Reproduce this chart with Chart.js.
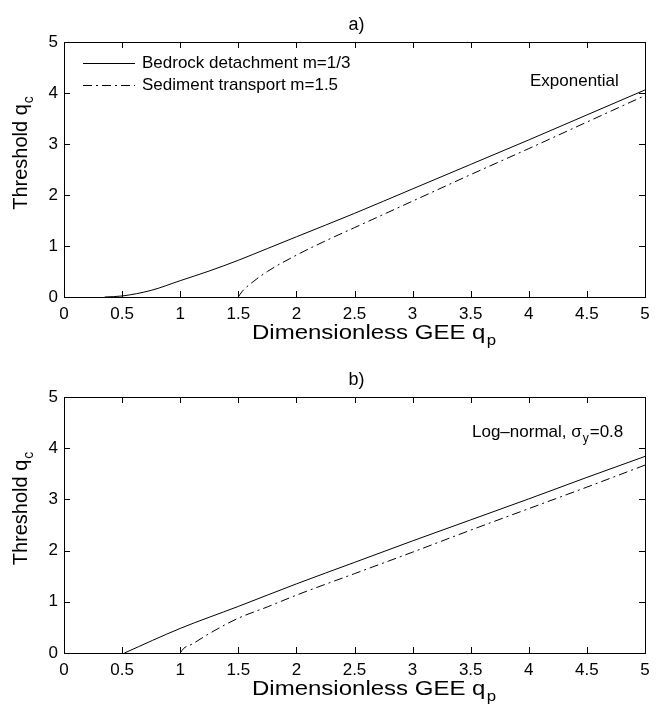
<!DOCTYPE html>
<html>
<head>
<meta charset="utf-8">
<script src="https://cdn.jsdelivr.net/npm/chart.js@4/dist/chart.umd.min.js"></script>
<style>
  body { margin: 0; background: #fff; }
  .panel { position: absolute; left: 0; width: 660px; height: 354px; }
</style>
</head>
<body>
<div class="panel" style="top:0"><canvas id="chartA" width="660" height="354"></canvas></div>
<div class="panel" style="top:354px"><canvas id="chartB" width="660" height="354"></canvas></div>
<script>
// panel a) exponential
const bedrockExpX = [0.35, 0.5, 0.75, 1, 1.25, 1.5, 1.75, 2, 2.5, 3, 3.5, 4, 4.5, 5];
const bedrockExpY = [0, 0.02, 0.13, 0.32, 0.51, 0.72, 0.95, 1.18, 1.64, 2.12, 2.6, 3.08, 3.57, 4.06];
const sedimentExpX = [1.5, 1.53, 1.6, 1.75, 2, 2.25, 2.5, 3, 3.5, 4, 4.5, 5];
const sedimentExpY = [0, 0.1, 0.25, 0.5, 0.82, 1.1, 1.36, 1.88, 2.4, 2.91, 3.43, 3.95];

// panel b) log-normal
const bedrockLogX = [0.52, 1, 1.5, 2, 2.5, 3, 3.5, 4, 4.5, 5];
const bedrockLogY = [0, 0.48, 0.91, 1.35, 1.77, 2.19, 2.6, 3.01, 3.43, 3.84];
const sedimentLogX = [1, 1.03, 1.1, 1.25, 1.5, 1.75, 2, 2.5, 3, 3.5, 4, 4.5, 5];
const sedimentLogY = [0, 0.09, 0.17, 0.38, 0.68, 0.9, 1.13, 1.55, 1.97, 2.4, 2.82, 3.24, 3.67];

const xTicks = [0, 0.5, 1, 1.5, 2, 2.5, 3, 3.5, 4, 4.5, 5];
const yTicks = [0, 1, 2, 3, 4, 5];
const seriesNames = ['Bedrock detachment m=1/3', 'Sediment transport m=1.5'];

const FONT = 'Liberation Sans, Arial, Helvetica, sans-serif';
const DASHDOT = [9, 4, 2, 4];

function toPoints(xs, ys) {
    return xs.map((x, i) => ({ x: x, y: ys[i] }));
}

// text with one subscript part
function drawSub(ctx, main, sub, x, y, size, align) {
    const subSize = Math.round(size * 0.72);
    ctx.font = size + 'px ' + FONT;
    const w1 = ctx.measureText(main).width;
    ctx.font = subSize + 'px ' + FONT;
    const w2 = ctx.measureText(sub).width;
    let start = x;
    if (align === 'center') start = x - (w1 + w2) / 2;
    ctx.textAlign = 'left';
    ctx.textBaseline = 'alphabetic';
    ctx.font = size + 'px ' + FONT;
    ctx.fillText(main, start, y);
    ctx.font = subSize + 'px ' + FONT;
    ctx.fillText(sub, start + w1 + 1, y + size * 0.3);
    return w1 + w2 + 1;
}

const framePlugin = {
    id: 'frame',
    afterDraw(chart) {
        const ctx = chart.ctx;
        const a = chart.chartArea;
        const xs = chart.scales.x, ys = chart.scales.y;
        const o = chart.options.plugins.frame;
        ctx.save();
        ctx.strokeStyle = '#000';
        ctx.lineWidth = 1;
        ctx.strokeRect(Math.round(a.left) + 0.5, Math.round(a.top) + 0.5,
            Math.round(a.right - a.left), Math.round(a.bottom - a.top));
        ctx.beginPath();
        xTicks.forEach(v => {
            const px = Math.round(xs.getPixelForValue(v)) + 0.5;
            ctx.moveTo(px, a.bottom); ctx.lineTo(px, a.bottom - 6);
            ctx.moveTo(px, a.top); ctx.lineTo(px, a.top + 6);
        });
        yTicks.forEach(v => {
            const py = Math.round(ys.getPixelForValue(v)) + 0.5;
            ctx.moveTo(a.left, py); ctx.lineTo(a.left + 6, py);
            ctx.moveTo(a.right, py); ctx.lineTo(a.right - 6, py);
        });
        ctx.stroke();

        ctx.fillStyle = '#000';
        const cx = (a.left + a.right) / 2;
        // panel letter
        ctx.font = '18px ' + FONT;
        ctx.textAlign = 'center';
        ctx.textBaseline = 'alphabetic';
        ctx.fillText(o.letter, cx + 2, a.top - 12);

        // x title, a bit wider than the font
        ctx.save();
        ctx.translate(252, a.bottom + 42);
        ctx.scale(1.2, 1);
        drawSub(ctx, 'Dimensionless GEE q', 'p', 0, 0, 20, 'left');
        ctx.restore();

        ctx.save();
        ctx.translate(27, (a.top + a.bottom) / 2 - 16);
        ctx.rotate(-Math.PI / 2);
        drawSub(ctx, 'Threshold q', 'c', 0, 0, 20, 'center');
        ctx.restore();

        // note in the corner
        const n = o.note;
        const w = drawSub(ctx, n.main, n.sub, n.x, a.top + n.dy, 17, 'left');
        if (n.tail) {
            ctx.font = '17px ' + FONT;
            ctx.fillText(n.tail, n.x + w + 1, a.top + n.dy);
        }

        // legend, only on the top panel
        if (o.legend) {
            chart.data.datasets.forEach((ds, i) => {
                const ly = a.top + 21 + i * 22;
                ctx.beginPath();
                ctx.setLineDash(ds.borderDash || []);
                ctx.moveTo(83, ly + 0.5); ctx.lineTo(135, ly + 0.5);
                ctx.stroke();
                ctx.setLineDash([]);
                ctx.font = '17px ' + FONT;
                ctx.textBaseline = 'middle';
                ctx.textAlign = 'left';
                ctx.fillText(ds.label, 142, ly);
            });
        }
        ctx.restore();
    }
};

function makeChart(id, bedX, bedY, sedX, sedY, frame, padTop, xHeight) {
    return new Chart(document.getElementById(id), {
        type: 'scatter',
        data: {
            datasets: [{
                label: seriesNames[0],
                data: toPoints(bedX, bedY),
                showLine: true,
                borderColor: '#000',
                borderWidth: 1,
                pointRadius: 0,
                cubicInterpolationMode: 'monotone'
            }, {
                label: seriesNames[1],
                data: toPoints(sedX, sedY),
                showLine: true,
                borderColor: '#000',
                borderWidth: 1,
                borderDash: DASHDOT,
                pointRadius: 0,
                cubicInterpolationMode: 'monotone'
            }]
        },
        options: {
            responsive: false,
            animation: false,
            devicePixelRatio: 1,
            layout: { padding: { top: padTop, right: 15, left: 0, bottom: 0 } },
            scales: {
                x: {
                    type: 'linear', min: 0, max: 5,
                    grid: { display: false, drawTicks: false },
                    border: { display: false },
                    ticks: {
                        stepSize: 0.5, color: '#000', padding: 7,
                        font: { family: FONT, size: 17 },
                        callback: v => String(v)
                    },
                    afterFit: s => { s.height = xHeight; }
                },
                y: {
                    min: 0, max: 5,
                    grid: { display: false, drawTicks: false },
                    border: { display: false },
                    ticks: {
                        stepSize: 1, color: '#000', padding: 6,
                        font: { family: FONT, size: 17 },
                        callback: v => String(v)
                    },
                    afterFit: s => { s.width = 64; }
                }
            },
            plugins: {
                legend: { display: false },
                tooltip: { enabled: false },
                frame: frame
            }
        },
        plugins: [framePlugin]
    });
}

makeChart('chartA', bedrockExpX, bedrockExpY, sedimentExpX, sedimentExpY, {
    letter: 'a)', legend: true,
    note: { main: 'Exponential', sub: '', x: 530, dy: 44 }
}, 42, 57);

makeChart('chartB', bedrockLogX, bedrockLogY, sedimentLogX, sedimentLogY, {
    letter: 'b)', legend: false,
    note: { main: 'Log\u2013normal, \u03c3', sub: 'y', tail: '=0.8', x: 472, dy: 40 }
}, 43, 55);
</script>
</body>
</html>
